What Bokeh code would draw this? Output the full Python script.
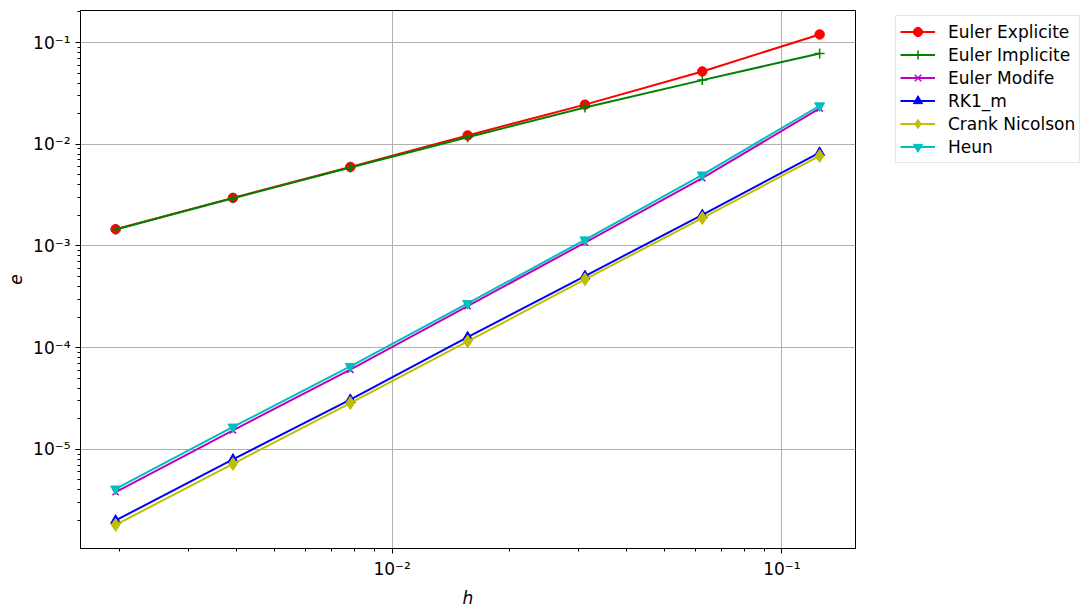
from bokeh.plotting import figure
from bokeh.models import ColumnDataSource, Range1d, FixedTicker, Legend, LegendItem
from bokeh.embed import file_html
from bokeh.resources import INLINE

# step sizes and errors per scheme
h = [1/8, 1/16, 1/32, 1/64, 1/128, 1/256, 1/512]
euler_explicite = [0.120, 0.0519, 0.0245, 0.0122, 0.00598, 0.00297, 0.00146]
euler_implicite = [0.078, 0.0427, 0.0230, 0.0117, 0.00590, 0.00294, 0.00145]
euler_modife = [0.0225, 0.00464, 0.00108, 2.56e-4, 6.07e-5, 1.54e-5, 3.8e-6]
rk1_m = [0.00828, 0.00202, 5.06e-4, 1.27e-4, 3.08e-5, 7.97e-6, 2.0e-6]
crank_nicolson = [0.00768, 0.00188, 4.7e-4, 1.15e-4, 2.85e-5, 7.2e-6, 1.81e-6]
heun = [0.0239, 0.0050, 0.00115, 2.72e-4, 6.55e-5, 1.66e-5, 4.09e-6]

labels = ["Euler Explicite", "Euler Implicite", "Euler Modife", "RK1_m", "Crank Nicolson", "Heun"]
series = [euler_explicite, euler_implicite, euler_modife, rk1_m, crank_nicolson, heun]

x_tick_values = [1e-2, 1e-1]
x_tick_labels = ["10⁻²", "10⁻¹"]
y_tick_values = [1e-5, 1e-4, 1e-3, 1e-2, 1e-1]
y_tick_labels = ["10⁻⁵", "10⁻⁴", "10⁻³", "10⁻²", "10⁻¹"]

# styling (matplotlib-like)
colors = ["#ff0000", "#008000", "#bf00bf", "#0000ff", "#bfbf00", "#00bfbf"]
markers = ["circle", "cross", "x", "triangle", "diamond", "inverted_triangle"]
sizes = [9.5, 10, 9, 10, 13, 10]
FONT = "DejaVu Sans"
FS = "17px"

p = figure(
    x_axis_type="log", y_axis_type="log",
    frame_width=775, frame_height=538,
    min_border_left=80, min_border_top=10, min_border_bottom=50, min_border_right=226,
    x_range=Range1d(0.001587, 0.1545), y_range=Range1d(1.06e-6, 0.2065),
    toolbar_location=None, output_backend="svg",
)
p.outline_line_color = "black"
p.outline_line_width = 1
p.background_fill_color = "white"
p.border_fill_color = "white"

minor_x = [m * 10.0 ** k for k in range(-3, 0) for m in range(2, 10)]
minor_y = [m * 10.0 ** k for k in range(-7, 0) for m in range(2, 10)]
p.xaxis.ticker = FixedTicker(ticks=x_tick_values, minor_ticks=minor_x)
p.yaxis.ticker = FixedTicker(ticks=y_tick_values, minor_ticks=minor_y)
p.xaxis.major_label_overrides = dict(zip(x_tick_values, x_tick_labels))
p.yaxis.major_label_overrides = dict(zip(y_tick_values, y_tick_labels))

for ax in (p.xaxis, p.yaxis):
    ax.axis_line_color = "black"
    ax.major_tick_line_color = "black"
    ax.minor_tick_line_color = "black"
    ax.major_tick_out = 5
    ax.major_tick_in = 0
    ax.minor_tick_out = 3
    ax.minor_tick_in = 0
    ax.major_label_standoff = 5
    ax.major_label_text_font = FONT
    ax.major_label_text_font_size = FS
    ax.major_label_text_color = "black"
    ax.axis_label_text_font = FONT
    ax.axis_label_text_font_size = FS
    ax.axis_label_text_font_style = "italic"
    ax.axis_label_text_color = "black"

p.xaxis.axis_label = "h"
p.yaxis.axis_label = "e"
p.xaxis.axis_label_standoff = 6
p.yaxis.axis_label_standoff = 8

p.grid.grid_line_color = "#b0b0b0"
p.grid.grid_line_width = 1

items = []
for label, vals, color, marker, size in zip(labels, series, colors, markers, sizes):
    src = ColumnDataSource(dict(h=h, e=vals))
    ln = p.line("h", "e", source=src, line_color=color, line_width=2)
    if marker in ("cross", "x"):
        sc = p.scatter("h", "e", source=src, marker=marker, size=size,
                       line_color=color, line_width=1.5, fill_color=None)
    else:
        sc = p.scatter("h", "e", source=src, marker=marker, size=size,
                       line_color=color, fill_color=color)
    items.append(LegendItem(label=label, renderers=[ln, sc]))

legend = Legend(
    items=items, location=(40, 385),
    label_text_font=FONT, label_text_font_size=FS, label_text_color="black",
    glyph_width=35, glyph_height=23, label_height=20, label_standoff=13,
    spacing=0, padding=4, margin=0,
    border_line_color="#cccccc", border_line_width=1,
    background_fill_color="white", background_fill_alpha=0.8,
)
p.add_layout(legend, "right")

open("out.html", "w").write(file_html(p, INLINE))
